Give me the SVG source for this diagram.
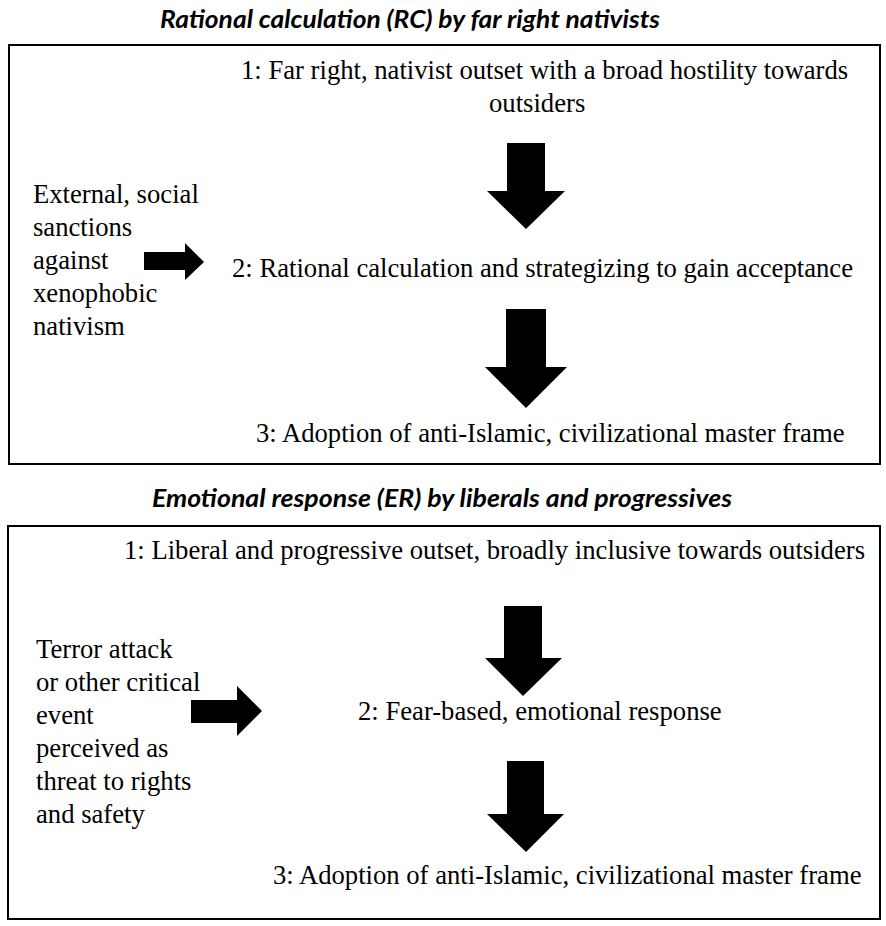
<svg xmlns="http://www.w3.org/2000/svg" width="886" height="926" viewBox="0 0 886 926">
<style>
.t{font-family:"Liberation Serif", serif;font-size:26.67px;fill:#000}
.h{font-family:Lato, sans-serif;font-size:24px;font-weight:bold;font-style:italic;fill:#000}
.box{fill:#fff;stroke:#000;stroke-width:2}
.arr{fill:#000;stroke:none}
</style>
<rect x="0" y="0" width="886" height="926" fill="#fff"/>
<g id="title-rc"><text class="h" x="160" y="28" textLength="500" lengthAdjust="spacingAndGlyphs">Rational calculation (RC) by far right nativists</text></g>
<g id="box-rc"><rect class="box" x="9" y="45" width="871" height="419"/></g>
<g id="rc-1"><text class="t" x="241" y="79">1: Far right, nativist outset with a broad hostility towards</text><text class="t" x="489" y="112">outsiders</text></g>
<g id="rc-2"><text class="t" x="232" y="277">2: Rational calculation and strategizing to gain acceptance</text></g>
<g id="rc-3"><text class="t" x="256" y="442">3: Adoption of anti-Islamic, civilizational master frame</text></g>
<g id="rc-ext"><text class="t" x="33" y="203">External, social</text><text class="t" x="33" y="236">sanctions</text><text class="t" x="33" y="269">against</text><text class="t" x="33" y="302">xenophobic</text><text class="t" x="33" y="335">nativism</text></g>
<g id="title-er"><text class="h" x="152" y="507" textLength="580" lengthAdjust="spacingAndGlyphs">Emotional response (ER) by liberals and progressives</text></g>
<g id="box-er"><rect class="box" x="8" y="526" width="872" height="393"/></g>
<g id="er-1"><text class="t" x="124" y="559">1: Liberal and progressive outset, broadly inclusive towards outsiders</text></g>
<g id="er-2"><text class="t" x="358" y="720">2: Fear-based, emotional response</text></g>
<g id="er-3"><text class="t" x="273" y="884">3: Adoption of anti-Islamic, civilizational master frame</text></g>
<g id="er-ext"><text class="t" x="36" y="658">Terror attack</text><text class="t" x="36" y="691">or other critical</text><text class="t" x="36" y="724">event</text><text class="t" x="36" y="757">perceived as</text><text class="t" x="36" y="790">threat to rights</text><text class="t" x="36" y="823">and safety</text></g>
<g id="connectors">
<polygon class="arr" points="507,143 545,143 545,191 565,191 526,229 487,191 507,191"/>
<polygon class="arr" points="506,309 546,309 546,367 567,367 526,408 485,367 506,367"/>
<polygon class="arr" points="144,252 185,252 185,243 204,262 185,280 185,270 144,270"/>
<polygon class="arr" points="504,606 542,606 542,658 562,658 523,696 485,658 504,658"/>
<polygon class="arr" points="507,761 544,761 544,814 564,814 526,852 487,814 507,814"/>
<polygon class="arr" points="191,700 237,700 237,686 262,711 237,736 237,723 191,723"/>
</g>
</svg>
